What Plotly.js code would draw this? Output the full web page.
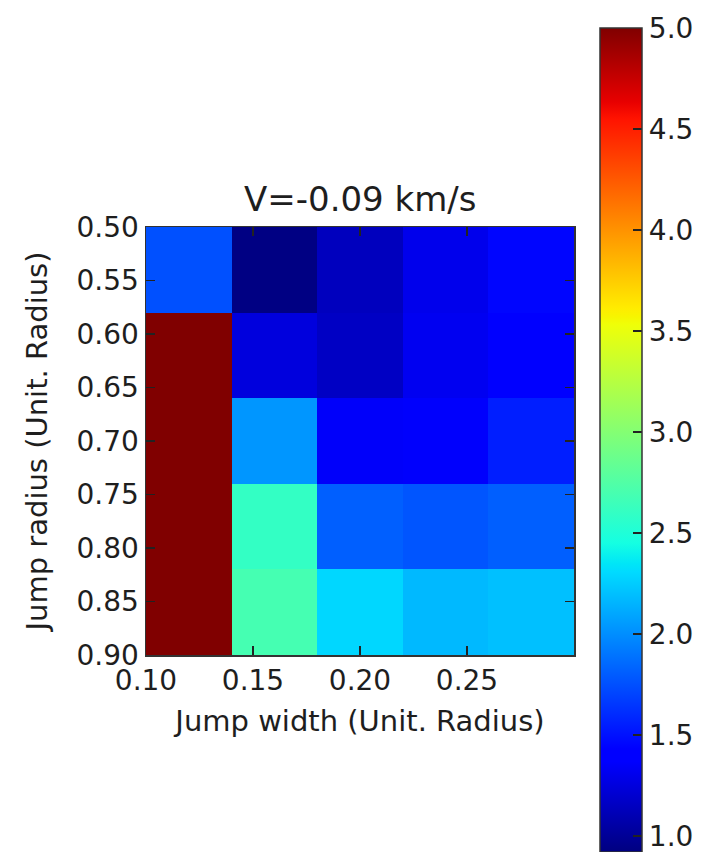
<!DOCTYPE html>
<html>
<head>
<meta charset="utf-8">
<script src="https://cdn.plot.ly/plotly-3.0.1.min.js"></script>
<style>html,body{margin:0;padding:0;background:#fff;}#chart{width:703px;height:852px;}</style>
</head>
<body>
<div id="chart"></div>
<script>
// Cell centres (jump width, jump radius)
var jumpWidth = [0.12, 0.16, 0.20, 0.24, 0.28];
var jumpRadius = [0.54, 0.62, 0.70, 0.78, 0.86];
// Values, one row per jump radius
var row054 = [1.75, 0.93, 1.14, 1.30, 1.45];
var row062 = [5.00, 1.25, 1.16, 1.32, 1.38];
var row070 = [5.00, 2.03, 1.35, 1.36, 1.55];
var row078 = [5.00, 2.60, 1.81, 1.77, 1.81];
var row086 = [5.00, 2.69, 2.29, 2.17, 2.20];
var xTicks = [0.10, 0.15, 0.20, 0.25];
var xTickText = ['0.10', '0.15', '0.20', '0.25'];
var yTicks = [0.50, 0.55, 0.60, 0.65, 0.70, 0.75, 0.80, 0.85, 0.90];
var yTickText = ['0.50', '0.55', '0.60', '0.65', '0.70', '0.75', '0.80', '0.85', '0.90'];
var cbTicks = [1.0, 1.5, 2.0, 2.5, 3.0, 3.5, 4.0, 4.5, 5.0];
var cbTickText = ['1.0', '1.5', '2.0', '2.5', '3.0', '3.5', '4.0', '4.5', '5.0'];
var chartTitle = 'V=-0.09 km/s';

// matplotlib "jet" colormap stops
var jet = [
  [0.000, 'rgb(0,0,128)'],
  [0.110, 'rgb(0,0,255)'],
  [0.125, 'rgb(0,0,255)'],
  [0.340, 'rgb(0,219,255)'],
  [0.350, 'rgb(0,230,247)'],
  [0.375, 'rgb(21,255,226)'],
  [0.640, 'rgb(239,255,8)'],
  [0.650, 'rgb(247,245,0)'],
  [0.660, 'rgb(255,236,0)'],
  [0.890, 'rgb(255,19,0)'],
  [0.910, 'rgb(232,0,0)'],
  [1.000, 'rgb(128,0,0)']
];

var FONT = 'DejaVu Sans, Bitstream Vera Sans, sans-serif';
var TXT = '#1e1e1e';

var trace = {
  type: 'heatmap',
  x: jumpWidth,
  y: jumpRadius,
  z: [row054, row062, row070, row078, row086],
  zmin: 0.92,
  zmax: 5.0,
  colorscale: jet,
  xgap: 0, ygap: 0,
  hoverinfo: 'x+y+z',
  colorbar: {
    x: 1.0607, xanchor: 'left', xref: 'paper', xpad: 0,
    y: 1.465, yanchor: 'top', yref: 'paper', ypad: 0,
    lenmode: 'pixels', len: 824,
    thicknessmode: 'pixels', thickness: 42,
    outlinewidth: 1.5, outlinecolor: '#333',
    tickmode: 'array', tickvals: cbTicks, ticktext: cbTickText,
    ticks: 'inside', ticklen: 9, tickwidth: 1.5, tickcolor: '#222',
    ticklabeloverflow: 'allow',
    tickfont: {family: FONT, size: 28, color: TXT}
  }
};

var layout = {
  width: 703, height: 852,
  margin: {l: 146, r: 129, t: 227, b: 197, pad: 0, autoexpand: false},
  paper_bgcolor: '#fff', plot_bgcolor: '#fff',
  font: {family: FONT, color: TXT},
  annotations: [{
    text: chartTitle,
    font: {family: FONT, size: 34, color: TXT},
    x: 0.5, xref: 'paper', xanchor: 'center',
    y: 1.014, yref: 'paper', yanchor: 'bottom',
    showarrow: false
  }],
  xaxis: {
    range: [0.10, 0.30], autorange: false,
    showgrid: false, zeroline: false,
    showline: true, linecolor: '#333', linewidth: 1.5, mirror: 'ticks',
    ticks: 'inside', ticklen: 9, tickwidth: 1.5, tickcolor: '#222',
    tickmode: 'array', tickvals: xTicks, ticktext: xTickText,
    tickfont: {family: FONT, size: 28, color: TXT},
    title: {text: 'Jump width (Unit. Radius)', font: {family: FONT, size: 29, color: TXT}, standoff: 14},
    automargin: false
  },
  yaxis: {
    range: [0.90, 0.50], autorange: false,
    showgrid: false, zeroline: false,
    showline: true, linecolor: '#333', linewidth: 1.5, mirror: 'ticks',
    ticks: 'inside', ticklen: 9, tickwidth: 1.5, tickcolor: '#222',
    tickmode: 'array', tickvals: yTicks, ticktext: yTickText,
    tickfont: {family: FONT, size: 28, color: TXT},
    title: {text: 'Jump radius (Unit. Radius)', font: {family: FONT, size: 29, color: TXT}, standoff: 20},
    automargin: false
  }
};

Plotly.newPlot('chart', [trace], layout, {displayModeBar: false, staticPlot: true});
</script>
</body>
</html>
